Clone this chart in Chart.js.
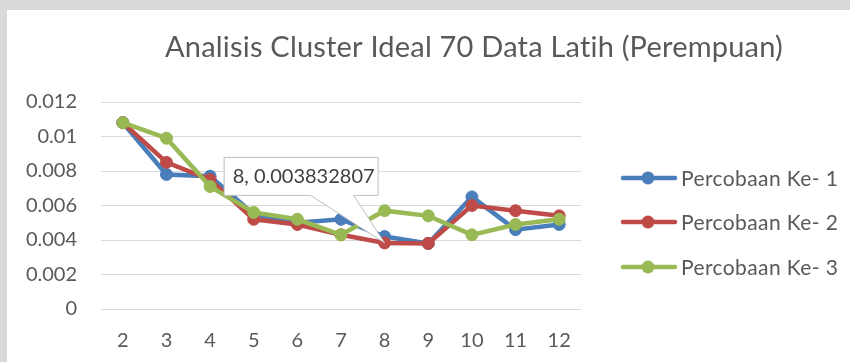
<!DOCTYPE html>
<html>
<head>
<meta charset="utf-8">
<title>Analisis Cluster Ideal</title>
<script src="https://cdn.jsdelivr.net/npm/chart.js@4.4.1/dist/chart.umd.min.js"></script>
<style>
  html, body { margin: 0; padding: 0; background: #d9d9d9; overflow: hidden; }
  #frame { position: absolute; left: 7px; top: 10px; width: 843px; height: 352px; background: #fff; }
</style>
</head>
<body>
<div id="frame"><canvas id="myChart" width="843" height="352"></canvas></div>
<script>
const chartTitle = 'Analisis Cluster Ideal 70 Data Latih (Perempuan)';
const clusters = ['2', '3', '4', '5', '6', '7', '8', '9', '10', '11', '12'];
const seriesNames = ['Percobaan Ke- 1', 'Percobaan Ke- 2', 'Percobaan Ke- 3'];
const percobaan1 = [0.0108, 0.0078, 0.0077, 0.0055, 0.0050, 0.0052, 0.0042, 0.0038, 0.0065, 0.0046, 0.0049];
const percobaan2 = [0.0108, 0.0085, 0.0075, 0.0052, 0.0049, 0.0043, 0.003832807, 0.0038, 0.0060, 0.0057, 0.0054];
const percobaan3 = [0.0108, 0.0099, 0.0071, 0.0056, 0.0052, 0.0043, 0.0057, 0.0054, 0.0043, 0.0049, 0.0052];
const yTicks = [0, 0.002, 0.004, 0.006, 0.008, 0.01, 0.012];
const seriesColors = ['#4a7ebb', '#be4b48', '#98b954'];
// label shown next to cluster 8 of the second run
const calloutSeries = 1;
const calloutIndex = 6;

const FONT = 'Lato, "Open Sans", sans-serif';
const TEXT = '#595959';

function makeSeries(i, values) {
  return {
    label: seriesNames[i],
    data: values,
    borderColor: seriesColors[i],
    backgroundColor: seriesColors[i],
    pointBackgroundColor: seriesColors[i],
    pointBorderColor: seriesColors[i],
    borderWidth: 4.5,
    pointRadius: 6,
    pointBorderWidth: 1,
    tension: 0,
    order: 3 - i
  };
}

// title drawn over the chart, a little right of centre like the original sheet
const titlePlugin = {
  id: 'sheetTitle',
  afterDraw(chart) {
    const ctx = chart.ctx;
    ctx.save();
    ctx.font = '29px ' + FONT;
    ctx.letterSpacing = '0.2px'; // also keeps "ti" from turning into a ligature
    ctx.fillStyle = TEXT;
    ctx.textAlign = 'center';
    ctx.textBaseline = 'alphabetic';
    ctx.fillText(chartTitle, 467, 47);
    ctx.restore();
  }
};

// legend on the right: line with a marker, then the series name
const sideLegend = {
  id: 'sideLegend',
  afterDraw(chart) {
    const ctx = chart.ctx;
    const rows = [168, 212, 257];
    ctx.save();
    chart.data.datasets.forEach((ds, i) => {
      const y = rows[i];
      ctx.strokeStyle = ds.borderColor;
      ctx.lineWidth = 4.5;
      ctx.lineCap = 'round';
      ctx.beginPath();
      ctx.moveTo(616, y);
      ctx.lineTo(668, y);
      ctx.stroke();
      ctx.fillStyle = ds.borderColor;
      ctx.beginPath();
      ctx.arc(641, y, 6.5, 0, Math.PI * 2);
      ctx.fill();
      ctx.font = '21px ' + FONT;
      ctx.letterSpacing = '0.4px';
      ctx.fillStyle = TEXT;
      ctx.textAlign = 'left';
      ctx.textBaseline = 'middle';
      ctx.fillText(ds.label, 674, y + 1);
    });
    ctx.restore();
  }
};

// data callout box with a wedge pointing at its point
const callout = {
  id: 'callout',
  afterDatasetsDraw(chart) {
    const pt = chart.getDatasetMeta(calloutSeries).data[calloutIndex];
    const ctx = chart.ctx;
    const text = clusters[calloutIndex] + ', ' + chart.data.datasets[calloutSeries].data[calloutIndex];
    const left = pt.x - 161, right = pt.x - 7, top = pt.y - 86, bottom = pt.y - 48;
    const w1 = pt.x - 74, w2 = pt.x - 31;
    ctx.save();
    ctx.fillStyle = '#ffffff';
    ctx.strokeStyle = '#bfbfbf';
    ctx.lineWidth = 1;
    ctx.beginPath();
    ctx.moveTo(left + 0.5, top + 0.5);
    ctx.lineTo(right + 0.5, top + 0.5);
    ctx.lineTo(right + 0.5, bottom + 0.5);
    ctx.lineTo(w2, bottom + 0.5);
    ctx.lineTo(pt.x, pt.y);
    ctx.lineTo(w1, bottom + 0.5);
    ctx.lineTo(left + 0.5, bottom + 0.5);
    ctx.closePath();
    ctx.fill();
    ctx.stroke();
    ctx.font = '20px ' + FONT;
    ctx.fillStyle = '#404040';
    ctx.textAlign = 'left';
    ctx.textBaseline = 'middle';
    ctx.fillText(text, left + 9, (top + bottom) / 2 + 1);
    ctx.restore();
  }
};

document.addEventListener('DOMContentLoaded', function() {
  const ctx = document.getElementById('myChart');

  new Chart(ctx, {
    type: 'line',
    data: {
      labels: clusters,
      datasets: [
        makeSeries(0, percobaan1),
        makeSeries(1, percobaan2),
        makeSeries(2, percobaan3)
      ]
    },
    options: {
      responsive: false,
      animation: false,
      layout: { padding: { top: 92, right: 269, bottom: 0, left: 0 } },
      plugins: {
        legend: { display: false },
        title: { display: false },
        tooltip: { enabled: false }
      },
      scales: {
        x: {
          offset: true,
          grid: { display: false, drawTicks: false },
          border: { display: false },
          ticks: { color: TEXT, font: { family: FONT, size: 20 }, padding: 20, maxRotation: 0 },
          afterFit: (s) => { s.height = 53; }
        },
        y: {
          min: 0,
          max: 0.012,
          afterBuildTicks: (s) => { s.ticks = yTicks.map(v => ({ value: v })); },
          grid: { color: '#d9d9d9', lineWidth: 1, drawTicks: false },
          border: { display: false },
          ticks: {
            color: TEXT,
            font: { family: FONT, size: 20 },
            padding: 24,
            callback: (v) => String(+v.toFixed(3))
          },
          afterFit: (s) => { s.width = 94; }
        }
      }
    },
    plugins: [titlePlugin, sideLegend, callout]
  });
});
</script>
</body>
</html>
